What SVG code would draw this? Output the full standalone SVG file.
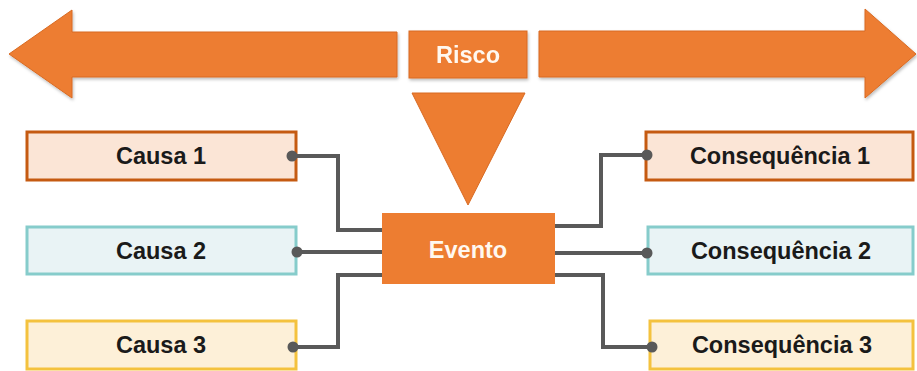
<svg xmlns="http://www.w3.org/2000/svg" width="917" height="371" viewBox="0 0 917 371">
<defs>
<filter id="sh" x="-5%" y="-10%" width="110%" height="130%">
<feDropShadow dx="1" dy="2" stdDeviation="1.5" flood-color="#000" flood-opacity="0.25"/>
</filter>
</defs>
<style>
.or{fill:#ED7D31;stroke:#D86A22;stroke-width:1}
.wt{font-family:"Liberation Sans",Arial,sans-serif;font-weight:bold;font-size:23.5px;fill:#FFF8F0;text-anchor:middle}
.dt{font-family:"Liberation Sans",Arial,sans-serif;font-weight:bold;font-size:23.5px;fill:#1A1A1A;text-anchor:middle}
.b1{fill:#FBE5D6;stroke:#C55A11;stroke-width:3}
.b2{fill:#E9F3F5;stroke:#86CCCB;stroke-width:3}
.b3{fill:#FDF0D8;stroke:#F4C23E;stroke-width:3}
.ln{fill:none;stroke:#595959;stroke-width:4}
.dot{fill:#595959}
</style>
<rect width="917" height="371" fill="#FFFFFF"/>
<g id="arrow-left" filter="url(#sh)">
<polygon class="or" points="9,54 72,10 72,32 397,32 397,77 72,77 72,98"/>
</g>
<g id="arrow-right" filter="url(#sh)">
<polygon class="or" points="916,54 865,9 865,31 539,31 539,77 865,77 865,98"/>
</g>
<g id="risco" filter="url(#sh)">
<rect class="or" x="409" y="31" width="118" height="47"/>
<text class="wt" x="468" y="63">Risco</text>
</g>
<g id="triangle">
<polygon class="or" points="412,93 525,93 468,205" stroke="none"/>
</g>
<g id="evento">
<rect x="382" y="213" width="173" height="71" fill="#ED7D31"/>
<text class="wt" x="468" y="258" font-size="24">Evento</text>
</g>
<g id="causa1">
<rect class="b1" x="27" y="132" width="269" height="48"/>
<text class="dt" x="161" y="164">Causa 1</text>
</g>
<g id="causa2">
<rect class="b2" x="27" y="227" width="269" height="47"/>
<text class="dt" x="161" y="259">Causa 2</text>
</g>
<g id="causa3">
<rect class="b3" x="27" y="321" width="269" height="48"/>
<text class="dt" x="161" y="353">Causa 3</text>
</g>
<g id="consequencia1">
<rect class="b1" x="646" y="132" width="267" height="48"/>
<text class="dt" x="780" y="164">Consequência 1</text>
</g>
<g id="consequencia2">
<rect class="b2" x="648" y="227" width="265" height="47"/>
<text class="dt" x="781" y="259">Consequência 2</text>
</g>
<g id="consequencia3">
<rect class="b3" x="650" y="321" width="263" height="48"/>
<text class="dt" x="782" y="353">Consequência 3</text>
</g>
<g id="connectors">
<path class="ln" d="M292 156 H338 V230 H382"/>
<path class="ln" d="M297 252 H382"/>
<path class="ln" d="M293 347 H338 V275 H382"/>
<path class="ln" d="M555 226 H601 V155 H647"/>
<path class="ln" d="M555 253 H647"/>
<path class="ln" d="M555 275 H603 V347 H652"/>
<circle class="dot" cx="292" cy="156" r="5.5"/>
<circle class="dot" cx="297" cy="252" r="5.5"/>
<circle class="dot" cx="293" cy="347" r="5.5"/>
<circle class="dot" cx="647" cy="155" r="5.5"/>
<circle class="dot" cx="647" cy="253" r="5.5"/>
<circle class="dot" cx="652" cy="347" r="5.5"/>
</g>
</svg>
